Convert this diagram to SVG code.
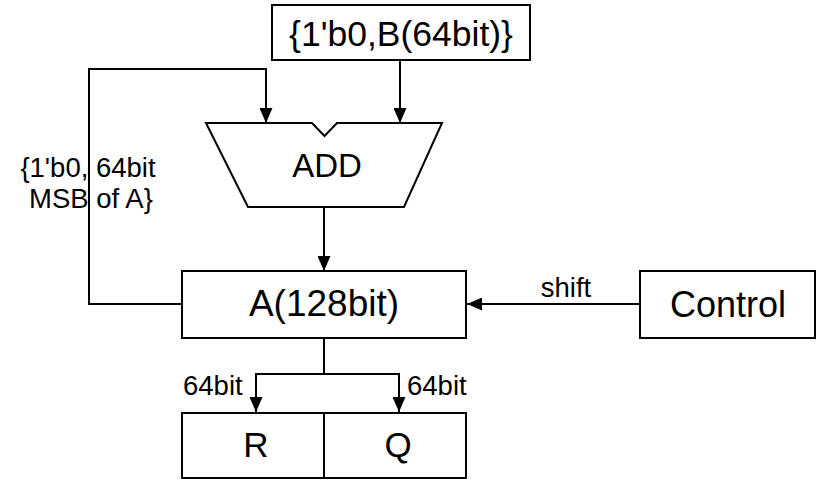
<svg xmlns="http://www.w3.org/2000/svg" width="821" height="488" viewBox="0 0 821 488">
<style>
.box{fill:#fff;stroke:#000;stroke-width:2}
.ln{fill:none;stroke:#000;stroke-width:2}
.big{font-family:"Liberation Sans",Arial,sans-serif;fill:#000;text-anchor:middle}
.sm{font-family:"Liberation Sans",Arial,sans-serif;font-size:27.5px;fill:#000}
</style>
<defs>
<marker id="ah" markerUnits="userSpaceOnUse" markerWidth="15" markerHeight="13" refX="15" refY="6.5" orient="auto">
<path d="M0,0 L15,6.5 L0,13 Z" fill="#000"/>
</marker>
</defs>
<rect width="821" height="488" fill="#fff"/>
<g id="connectors">
<path class="ln" d="M182,304 L89,304 L89,69 L266,69 L266,123" marker-end="url(#ah)"/>
<path class="ln" d="M400,60 L400,123" marker-end="url(#ah)"/>
<path class="ln" d="M324,207 L324,271" marker-end="url(#ah)"/>
<path class="ln" d="M640,304 L467,304" marker-end="url(#ah)"/>
<path class="ln" d="M324,338 L324,374"/>
<path class="ln" d="M256,374 L256,412" marker-end="url(#ah)"/>
<path class="ln" d="M255,374 L400,374"/>
<path class="ln" d="M399,374 L399,412" marker-end="url(#ah)"/>
<text class="sm" x="566" y="297" text-anchor="middle">shift</text>
<text class="sm" x="183" y="395">64bit</text>
<text class="sm" x="407" y="395">64bit</text>
<text class="sm" x="88" y="177" text-anchor="middle">{1'b0, 64bit</text>
<text class="sm" x="91" y="208" text-anchor="middle">MSB of A}</text>
</g>
<g id="B">
<rect class="box" x="272" y="5" width="258" height="55"/>
<text class="big" x="401" y="46" font-size="35.5">{1'b0,B(64bit)}</text>
</g>
<g id="ADD">
<path class="box" d="M206,123 L312,123 L324.5,136 L337,123 L442,123 L404,207 L248,207 Z"/>
<text class="big" x="327" y="177" font-size="33">ADD</text>
</g>
<g id="A">
<rect class="box" x="182" y="271" width="284" height="67"/>
<text class="big" x="324" y="316" font-size="37">A(128bit)</text>
</g>
<g id="Control">
<rect class="box" x="640" y="271" width="175" height="67"/>
<text class="big" x="728" y="317" font-size="36">Control</text>
</g>
<g id="R">
<rect class="box" x="182" y="413" width="142" height="65"/>
<text class="big" x="256" y="457" font-size="35">R</text>
</g>
<g id="Q">
<rect class="box" x="324" y="413" width="142" height="65"/>
<text class="big" x="398" y="457" font-size="35">Q</text>
</g>
</svg>
